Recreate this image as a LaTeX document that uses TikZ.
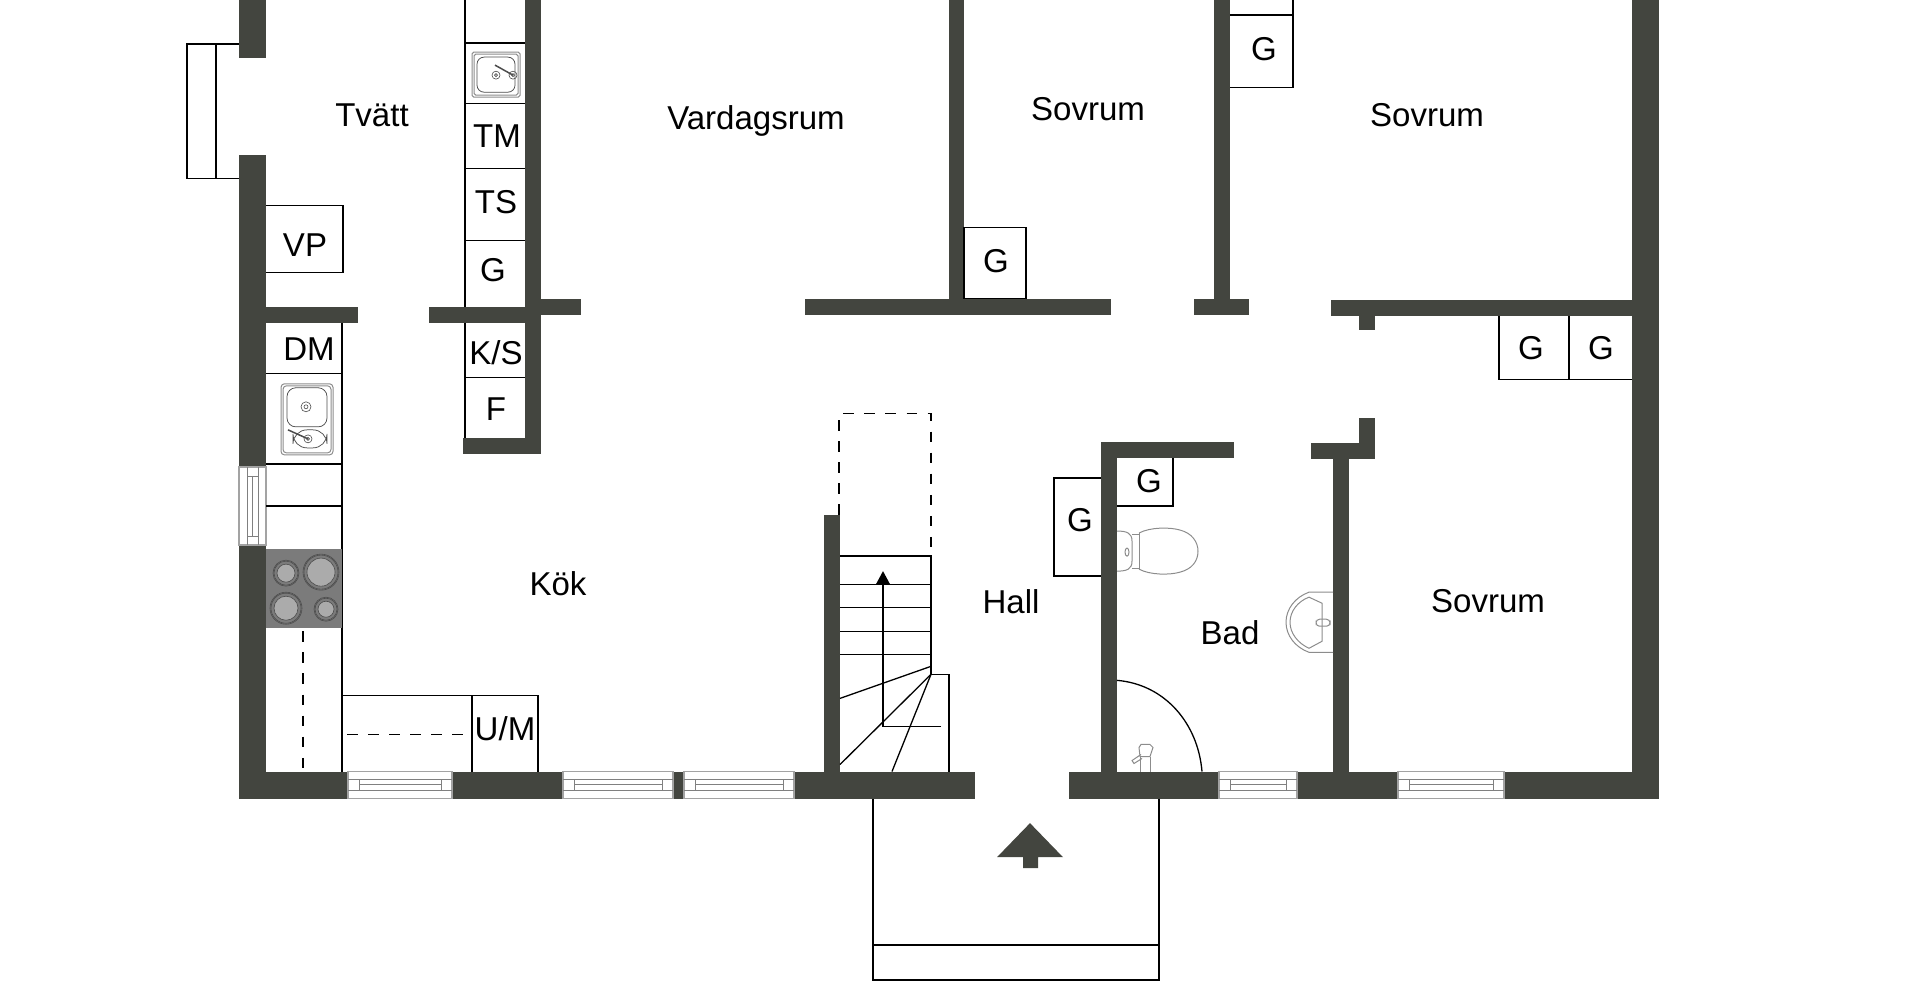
\documentclass[tikz,border=0pt]{standalone}
\usepackage{fontspec}
\setmainfont{Liberation Sans}
\usepackage{xcolor}
\definecolor{wallgrey}{HTML}{43453F}
\definecolor{fixgrey}{HTML}{8C8C8C}
\definecolor{hobgrey}{HTML}{7B7B7B}
\definecolor{ringgrey}{HTML}{ABABAB}

% Window in the south wall, from x=#1 to x=#2
\newcommand{\southwindow}[2]{
    \draw[glass] (#1,770) rectangle (#2,797);
    \draw[glassin] (#1,778) -- (#2,778);
    \draw[glassin] (#1,789) -- (#2,789);
    \draw[glassin] (#1+11,783) -- (#2-11,783);
    \draw[glassin] (#1+11,778) -- (#1+11,789);
    \draw[glassin] (#2-11,778) -- (#2-11,789);
}
% Hob ring at (#1,#2) with radius #3
\newcommand{\hobring}[3]{
    \draw[ringline, fill=ringgrey] (#1,#2) circle (#3-4);
    \draw[ringline] (#1,#2) circle (#3-1);
    \draw[ringline] (#1,#2) circle (#3);
}

\begin{document}
\begin{tikzpicture}[x=0.2mm, y=-0.2004mm,
    wall/.style={fill=wallgrey, draw=none},
    fixture/.style={draw=black, line width=0.26mm},
    dashline/.style={draw=black, line width=0.26mm, dash pattern=on 6pt off 6pt},
    thinline/.style={draw=fixgrey, line width=0.2mm},
    ringline/.style={draw=black!70, line width=0.12mm},
    glass/.style={draw=fixgrey!80, line width=0.25mm, fill=white},
    glassin/.style={draw=black!50, line width=0.15mm},
    room/.style={font=\fontsize{18.8pt}{20pt}\selectfont, inner sep=0pt}
]
\useasboundingbox (0,0) rectangle (1920,998);

% Balcony on the west side
\draw[fixture] (239,44) -- (187,44) -- (187,178) -- (239,178);
\draw[fixture] (216,44) -- (216,178);

% Outer walls
\fill[wall] (239,0) rectangle (266,58);
\fill[wall] (239,155) rectangle (266,466);
\fill[wall] (239,544) rectangle (266,797);
\fill[wall] (239,770) rectangle (348,797);
\fill[wall] (452,770) rectangle (563,797);
\fill[wall] (673,770) rectangle (684,797);
\fill[wall] (794,770) rectangle (975,797);
\fill[wall] (1069,770) rectangle (1219,797);
\fill[wall] (1297,770) rectangle (1398,797);
\fill[wall] (1505,770) rectangle (1659,797);
\fill[wall] (1632,0) rectangle (1659,797);

% Inner walls, west part
\fill[wall] (266,306) rectangle (358,322);
\fill[wall] (429,306) rectangle (525,322);
\fill[wall] (525,0) rectangle (541,453);
\fill[wall] (463,437) rectangle (525,453);
\fill[wall] (541,298) rectangle (581,314);

% Inner walls, middle part
\fill[wall] (805,298) rectangle (1111,314);
\fill[wall] (949,0) rectangle (964,298);
\fill[wall] (1214,0) rectangle (1230,298);
\fill[wall] (1194,298) rectangle (1249,314);
\fill[wall] (1331,299) rectangle (1632,315);
\fill[wall] (1359,315) rectangle (1375,329);

% Inner walls, bathroom and stairs
\fill[wall] (824,514) rectangle (840,770);
\fill[wall] (1101,441) rectangle (1117,770);
\fill[wall] (1117,441) rectangle (1234,457);
\fill[wall] (1311,442) rectangle (1375,458);
\fill[wall] (1359,417) rectangle (1375,442);
\fill[wall] (1333,458) rectangle (1349,770);

% Windows
\southwindow{348}{452}
\southwindow{563}{673}
\southwindow{684}{794}
\southwindow{1219}{1297}
\southwindow{1398}{1504}
\draw[glass] (239,466) rectangle (266,544);
\draw[glassin] (247,466) -- (247,544);
\draw[glassin] (258,466) -- (258,544);
\draw[glassin] (252.5,475) -- (252.5,535);
\draw[glassin] (247,475) -- (258,475);
\draw[glassin] (247,535) -- (258,535);

% Laundry cabinets
\draw[fixture] (266,205) -- (343,205) -- (343,272) -- (266,272);
\draw[fixture] (465,0) -- (465,306);
\draw[fixture] (465,43) -- (525,43);
\draw[fixture] (465,103) -- (525,103);
\draw[fixture] (465,168) -- (525,168);
\draw[fixture] (465,240) -- (525,240);
\draw[fixture] (465,322) -- (465,437);
\draw[fixture] (465,377) -- (525,377);

% Laundry sink
\draw[thinline, rounded corners=1pt] (472,52) rectangle (520,97);
\draw[thinline, rounded corners=1pt] (474,54) rectangle (518,95);
\draw[draw=black!70, line width=0.15mm, rounded corners=4pt] (477,57) rectangle (515,92);
\draw[ringline] (496,75) circle (4);
\draw[ringline] (496,75) circle (1.5);
\draw[ringline] (513,75) circle (4);
\draw[ringline] (513,75) circle (1.5);
\draw[draw=black!70, line width=0.3mm] (495,65) -- (513,75);

% Kitchen counter
\draw[fixture] (342,322) -- (342,770);
\draw[fixture] (266,373) -- (342,373);
\draw[fixture] (266,463) -- (342,463);
\draw[fixture] (266,505) -- (342,505);
\draw[fixture] (342,694) -- (538,694) -- (538,770);
\draw[fixture] (472,694) -- (472,770);
\draw[dashline] (303,630) -- (303,767);
\draw[dashline] (347,733) -- (469,733);

% Kitchen sink
\draw[thinline, rounded corners=2pt] (281,383) rectangle (333,454);
\draw[thinline, rounded corners=2pt] (283,385) rectangle (331,452);
\draw[draw=black!70, line width=0.15mm, rounded corners=5pt] (287,387) rectangle (327,426);
\draw[draw=black!70, line width=0.15mm, rounded corners=8pt] (293,429) rectangle (327,447);
\draw[ringline] (306,406) circle (5);
\draw[ringline] (306,406) circle (2);
\draw[ringline] (308,438) circle (4);
\draw[ringline] (308,438) circle (1.5);
\draw[draw=black!70, line width=0.3mm] (288,429) -- (308,438);

% Hob
\fill[hobgrey] (266,548) rectangle (342,627);
\hobring{286}{572}{13}
\hobring{321}{571}{18}
\hobring{286}{607}{16}
\hobring{326}{608}{12}

% Closets
\draw[fixture] (964,227) rectangle (1026,298);
\draw[fixture] (1293,-5) -- (1293,87) -- (1230,87);
\draw[fixture] (1230,15) -- (1293,15);
\draw[fixture] (1499,315) -- (1499,379) -- (1632,379);
\draw[fixture] (1569,315) -- (1569,379);
\draw[fixture] (1101,477) -- (1054,477) -- (1054,575) -- (1101,575);
\draw[fixture] (1173,457) -- (1173,505) -- (1117,505);

% Stairs
\draw[dashline] (839,514) -- (839,413) -- (931,413) -- (931,555);
\draw[fixture] (840,555) -- (931,555) -- (931,673);
\draw[fixture] (840,583) -- (931,583);
\draw[fixture] (840,606) -- (931,606);
\draw[fixture] (840,630) -- (931,630);
\draw[fixture] (840,653) -- (931,653);
\draw[fixture] (840,697) -- (931,665);
\draw[fixture] (840,763) -- (931,673);
\draw[fixture] (892,770) -- (931,673);
\draw[fixture] (931,673) -- (949,673) -- (949,770);
\draw[fixture] (941,725) -- (883,725) -- (883,583);
\fill[black] (883,570) -- (890,583) -- (876,583) -- cycle;

% Toilet
\draw[thinline] (1117,530) .. controls (1127,530) and (1132,532) .. (1132,540) -- (1132,560) .. controls (1132,568) and (1127,570) .. (1117,570);
\draw[thinline] (1132,533) -- (1139,533) (1132,567) -- (1139,567);
\draw[thinline] (1139,532) -- (1139,568);
\draw[thinline] (1139,532) .. controls (1150,526) and (1170,526) .. (1180,529) .. controls (1192,532) and (1198,541) .. (1198,550) .. controls (1198,560) and (1192,568) .. (1180,571) .. controls (1170,574) and (1150,574) .. (1139,568);
\draw[thinline] (1127,551) ellipse (2 and 4);

% Wash basin
\draw[thinline] (1333,591) -- (1309,591) .. controls (1295,596) and (1286,608) .. (1286,621) .. controls (1286,634) and (1295,646) .. (1309,651) -- (1333,651);
\draw[thinline] (1309,596) .. controls (1298,600) and (1290,610) .. (1290,621) .. controls (1290,632) and (1298,642) .. (1309,647) -- (1322,640) -- (1322,602) -- cycle;
\draw[thinline, rounded corners=2pt] (1316,618) rectangle (1330,625);

% Door swing and brush
\draw[draw=black, line width=0.26mm] (1117,679) .. controls (1165,683) and (1198,722) .. (1202,770);
\draw[thinline] (1140,770) -- (1140,755) (1150,770) -- (1150,755);
\draw[thinline] (1140,755) -- (1150,755) -- (1153,746) -- (1150,743) -- (1141,743) -- (1139,746) -- cycle;
\draw[thinline] (1141,753) -- (1132,759) -- (1134,762) -- (1142,757);

% Porch
\draw[fixture] (873,797) -- (873,978) -- (1159,978) -- (1159,797);
\draw[fixture] (873,943) -- (1159,943);

% Entrance arrow
\fill[wall] (1030,821.5) -- (1063,855.5) -- (1038,855.5) -- (1038,866.5) -- (1023,866.5) -- (1023,855.5) -- (997,855.5) -- cycle;

% Room labels
\node[room] (tvatt) at (372,115) {Tvätt};
\node[room] (vardagsrum) at (756,121) {Vardagsrum};
\node[room] (sovrumA) at (1088,109) {Sovrum};
\node[room] (sovrumB) at (1427,115) {Sovrum};
\node[room] (sovrumC) at (1488,600) {Sovrum};
\node[room] (kok) at (558,583) {Kök};
\node[room] (hall) at (1011,600) {Hall};
\node[room] (bad) at (1230,631) {Bad};

% Cabinet labels
\node[room] (vp) at (305,245) {VP};
\node[room] (dm) at (309,348) {DM};
\node[room] (tm) at (497,136) {TM};
\node[room] (ts) at (496,202) {TS};
\node[room] (gLaundry) at (493,270) {G};
\node[room] (ks) at (496,352) {K/S};
\node[room] (f) at (496,408) {F};
\node[room] (um) at (505,727) {U/M};
\node[room] (gHall) at (1080,519) {G};
\node[room] (gBad) at (1149,480) {G};
\node[room] (gRoomA) at (996,261) {G};
\node[room] (gRoomB) at (1264,49) {G};
\node[room] (gEastA) at (1531,347) {G};
\node[room] (gEastB) at (1601,347) {G};

\end{tikzpicture}
\end{document}
